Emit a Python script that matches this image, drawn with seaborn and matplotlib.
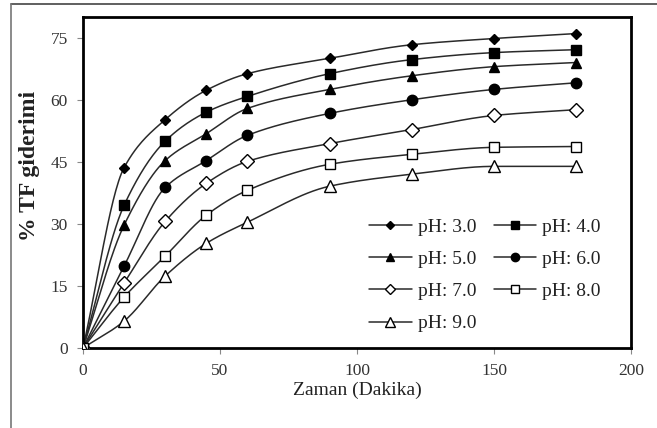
import numpy as np
import pandas as pd
import matplotlib
matplotlib.use("Agg")
import matplotlib.pyplot as plt
import seaborn as sns
from matplotlib.lines import Line2D

time_min = [0, 15, 30, 45, 60, 90, 120, 150, 180]
ph_labels = ["pH: 3.0", "pH: 4.0", "pH: 5.0", "pH: 6.0", "pH: 7.0", "pH: 8.0", "pH: 9.0"]
ph3 = [0, 43.6, 55.2, 62.3, 66.3, 70.0, 73.3, 74.8, 76.0]
ph4 = [0, 34.5, 50.0, 57.0, 60.8, 66.3, 69.7, 71.4, 72.1]
ph5 = [0, 29.7, 45.3, 51.8, 57.9, 62.5, 65.8, 68.0, 69.0]
ph6 = [0, 19.8, 38.8, 45.3, 51.4, 56.7, 60.0, 62.5, 64.1]
ph7 = [0, 15.7, 30.6, 39.8, 45.1, 49.4, 52.8, 56.2, 57.6]
ph8 = [0, 12.3, 22.2, 32.1, 38.1, 44.4, 46.8, 48.5, 48.7]
ph9 = [0, 6.5, 17.4, 25.3, 30.4, 39.1, 42.0, 43.9, 43.9]
series = [ph3, ph4, ph5, ph6, ph7, ph8, ph9]

markers = ["D", "s", "^", "o", "D", "s", "^"]
filled = [True, True, True, True, False, False, False]
msizes = [5.5, 6.5, 7, 7.5, 7, 7.5, 8.5]

sns.set_theme(style="white")
plt.rcParams["font.family"] = ["Liberation Serif", "DejaVu Serif"]

fig = plt.figure(figsize=(6.57, 4.28), dpi=100)
ax = fig.add_axes([83/657, 1-348/428, 548/657, 331/428])


def smooth(x, y, n=30):
    # monotone cubic (Fritsch-Carlson) rendering of the line between data points
    x = np.asarray(x, float); y = np.asarray(y, float)
    h = np.diff(x); d = np.diff(y) / h
    m = np.zeros_like(y)
    m[0] = d[0]; m[-1] = d[-1]
    for i in range(1, len(x)-1):
        if d[i-1]*d[i] <= 0:
            m[i] = 0
        else:
            w1 = 2*h[i] + h[i-1]; w2 = h[i] + 2*h[i-1]
            m[i] = (w1 + w2) / (w1/d[i-1] + w2/d[i])
    xs, ys = [], []
    for i in range(len(x)-1):
        t = np.linspace(0, 1, n, endpoint=False)
        h00 = 2*t**3 - 3*t**2 + 1; h10 = t**3 - 2*t**2 + t
        h01 = -2*t**3 + 3*t**2; h11 = t**3 - t**2
        xs.extend(x[i] + t*h[i])
        ys.extend(h00*y[i] + h10*h[i]*m[i] + h01*y[i+1] + h11*h[i]*m[i+1])
    xs.append(x[-1]); ys.append(y[-1])
    return np.array(xs), np.array(ys)


line_color = "#2a2a2a"
handles = []
for vals, lab, m, f, ms in zip(series, ph_labels, markers, filled, msizes):
    sx, sy = smooth(time_min, vals)
    sns.lineplot(x=sx, y=sy, ax=ax, color=line_color, lw=1.1, sort=False, estimator=None)
    df = pd.DataFrame({"t": time_min, "v": vals})
    ax.plot(df["t"], df["v"], linestyle="none", marker=m, markersize=ms,
            markerfacecolor="black" if f else "white", markeredgecolor="black",
            markeredgewidth=1.0, zorder=3)
    handles.append(Line2D([], [], color=line_color, lw=1.1, marker=m, markersize=ms*0.8,
                          markerfacecolor="black" if f else "white",
                          markeredgecolor="black", markeredgewidth=1.0, label=lab))

ax.set_xlim(0, 200)
ax.set_ylim(0, 80)
ax.set_xticks([0, 50, 100, 150, 200])
ax.set_yticks([0, 15, 30, 45, 60, 75])
ax.tick_params(axis="both", which="major", direction="out", length=4, width=0.8,
               color="#888888", labelsize=12.5, labelcolor="#333333", pad=7,
               left=True, bottom=True)
for s in ax.spines.values():
    s.set_color("black"); s.set_linewidth(2.0)

ax.set_xlabel("Zaman (Dakika)", fontsize=14, color="#222222", labelpad=2)
ax.set_ylabel("% TF giderimi", fontsize=17, fontweight="bold", color="#222222")
ax.yaxis.set_label_coords(-0.078, 0.55)

order = [0, 2, 4, 6, 1, 3, 5]
ax.legend([handles[i] for i in order], [ph_labels[i] for i in order], ncol=2,
          loc="upper left", bbox_to_anchor=(0.49, 0.445), frameon=False, fontsize=14,
          handlelength=2.2, handletextpad=0.3, columnspacing=0.9, labelspacing=0.75,
          labelcolor="#222222")

# outer frame lines (top and left) of the figure
fig.add_artist(Line2D([11/657, 1], [1-4/428, 1-4/428], color="#444444", lw=1.2, transform=fig.transFigure))
fig.add_artist(Line2D([11/657, 11/657], [0, 1-4/428], color="#777777", lw=1.2, transform=fig.transFigure))

fig.savefig("out.png", dpi=100)
